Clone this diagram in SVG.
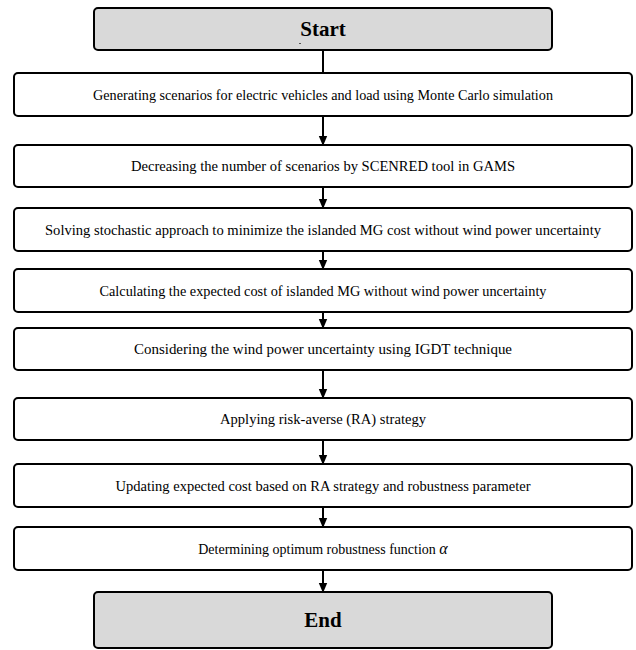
<svg xmlns="http://www.w3.org/2000/svg" width="636" height="650" viewBox="0 0 636 650">
<style>
.proc{fill:#fff;stroke:#000;stroke-width:2}
.term{fill:#d9d9d9;stroke:#000;stroke-width:2}
.t{font-family:"Liberation Serif","Times New Roman",serif;font-size:14px;fill:#000;text-anchor:middle}
.tb{font-family:"Liberation Serif","Times New Roman",serif;font-size:21px;font-weight:bold;fill:#000;text-anchor:middle}
.c{stroke:#000;stroke-width:2;fill:none}
</style>
<defs>
<marker id="ah" markerWidth="10" markerHeight="10" refX="9" refY="5" orient="auto" markerUnits="userSpaceOnUse">
<path d="M0,0.8 L10,5 L0,9.2 Z" fill="#000"/>
</marker>
</defs>
<rect width="636" height="650" fill="#fff"/>
<g id="connectors">
<line class="c" x1="323" y1="50" x2="323" y2="73"/>
<line class="c" x1="323" y1="116" x2="323" y2="145" marker-end="url(#ah)"/>
<line class="c" x1="323" y1="187" x2="323" y2="208" marker-end="url(#ah)"/>
<line class="c" x1="323" y1="251" x2="323" y2="269" marker-end="url(#ah)"/>
<line class="c" x1="323" y1="312" x2="323" y2="328" marker-end="url(#ah)"/>
<line class="c" x1="323" y1="370" x2="323" y2="398" marker-end="url(#ah)"/>
<line class="c" x1="323" y1="440" x2="323" y2="464" marker-end="url(#ah)"/>
<line class="c" x1="323" y1="507" x2="323" y2="527" marker-end="url(#ah)"/>
<line class="c" x1="323" y1="570" x2="323" y2="592" marker-end="url(#ah)"/>
</g>
<g id="start">
<rect class="term" x="94" y="8" width="458" height="42" rx="4"/>
<text class="tb" x="323" y="36">Start</text>
<rect x="299" y="43" width="2" height="1" fill="#555"/>
</g>
<g id="step1">
<rect class="proc" x="14" y="73" width="618" height="43" rx="4"/>
<text class="t" x="323" y="99.5" textLength="460" lengthAdjust="spacingAndGlyphs">Generating scenarios for electric vehicles and load using Monte Carlo simulation</text>
</g>
<g id="step2">
<rect class="proc" x="14" y="145" width="618" height="42" rx="4"/>
<text class="t" x="323" y="171" textLength="384" lengthAdjust="spacingAndGlyphs">Decreasing the number of scenarios by SCENRED tool in GAMS</text>
</g>
<g id="step3">
<rect class="proc" x="14" y="208" width="618" height="43" rx="4"/>
<text class="t" x="323" y="234.5" textLength="556" lengthAdjust="spacingAndGlyphs">Solving stochastic approach to minimize the islanded MG cost without wind power uncertainty</text>
</g>
<g id="step4">
<rect class="proc" x="14" y="269" width="618" height="43" rx="4"/>
<text class="t" x="323" y="295.5" textLength="447" lengthAdjust="spacingAndGlyphs">Calculating the expected cost of islanded MG without wind power uncertainty</text>
</g>
<g id="step5">
<rect class="proc" x="14" y="328" width="618" height="42" rx="4"/>
<text class="t" x="323" y="354" textLength="378" lengthAdjust="spacingAndGlyphs">Considering the wind power uncertainty using IGDT technique</text>
</g>
<g id="step6">
<rect class="proc" x="14" y="398" width="618" height="42" rx="4"/>
<text class="t" x="323" y="424" textLength="206" lengthAdjust="spacingAndGlyphs">Applying risk-averse (RA) strategy</text>
</g>
<g id="step7">
<rect class="proc" x="14" y="464" width="618" height="43" rx="4"/>
<text class="t" x="323" y="490.5" textLength="415" lengthAdjust="spacingAndGlyphs">Updating expected cost based on RA strategy and robustness parameter</text>
</g>
<g id="step8">
<rect class="proc" x="14" y="527" width="618" height="43" rx="4"/>
<text class="t" x="323" y="553.5">Determining optimum robustness function <tspan font-style="italic" font-size="16">α</tspan></text>
</g>
<g id="end">
<rect class="term" x="94" y="592" width="458" height="56" rx="4"/>
<text class="tb" x="323" y="627">End</text>
</g>
</svg>
